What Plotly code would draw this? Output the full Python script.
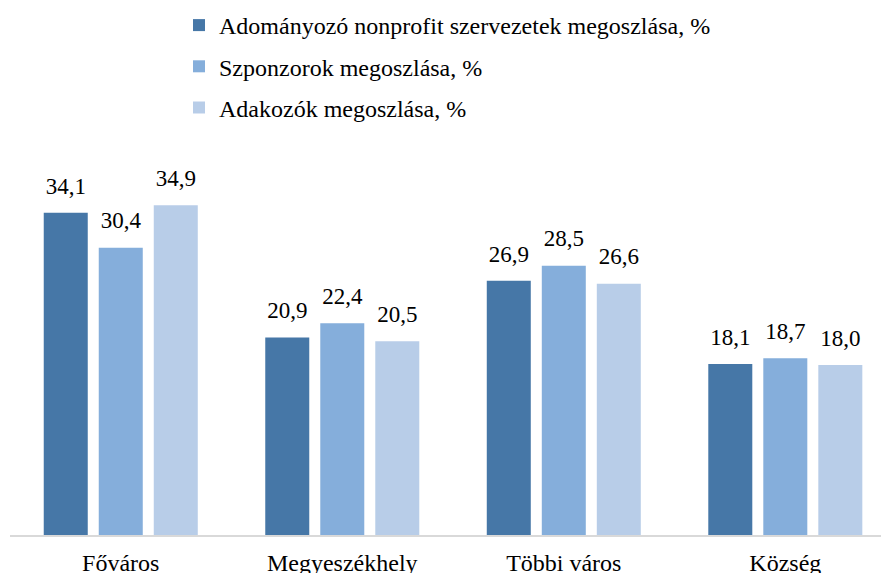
import plotly.graph_objects as go

categories = ["Főváros", "Megyeszékhely", "Többi város", "Község"]
series_names = [
    "Adományozó nonprofit szervezetek megoszlása, %",
    "Szponzorok megoszlása, %",
    "Adakozók megoszlása, %",
]
nonprofit = [34.1, 20.9, 26.9, 18.1]
szponzorok = [30.4, 22.4, 28.5, 18.7]
adakozok = [34.9, 20.5, 26.6, 18.0]
colors = ["#4677A7", "#85AEDB", "#B8CDE8"]

FONT = "Liberation Serif"
series = [nonprofit, szponzorok, adakozok]

fig = go.Figure()
for i, (name, vals) in enumerate(zip(series_names, series)):
    fig.add_trace(go.Bar(
        x=categories, y=vals, name=name,
        marker=dict(color=colors[i], line=dict(width=0)),
        legendgroup=f"g{i}", hoverinfo="skip",
    ))
for i, vals in enumerate(series):
    fig.add_trace(go.Scatter(
        x=categories, y=vals, mode="markers+text",
        text=[f"{v:.1f}".replace(".", ",") for v in vals],
        textposition="top center",
        textfont=dict(size=23, color="black", family=FONT),
        marker=dict(size=20, opacity=0),
        showlegend=False, hoverinfo="skip", cliponaxis=False,
    ))

fig.update_layout(
    width=881, height=573,
    margin=dict(l=10, r=0, t=157, b=38, autoexpand=False),
    paper_bgcolor="white", plot_bgcolor="white",
    barmode="group", bargap=0.255, bargroupgap=0.2,
    scattermode="group", scattergap=0.255,
    font=dict(family=FONT, size=24, color="black"),
    showlegend=True,
    legend=dict(
        x=(179 - 10) / 871, y=(535 - 3) / 378, xanchor="left", yanchor="top",
        font=dict(size=24, family=FONT, color="black"),
        tracegroupgap=7, bgcolor="rgba(0,0,0,0)",
    ),
    xaxis=dict(
        range=[-0.5, 3.432], showgrid=False, showline=True,
        linecolor="#D9D9D9", linewidth=1.5, ticks="", tickangle=0,
        tickfont=dict(size=24, family=FONT, color="black"),
        ticklabelstandoff=5,
        automargin=False, fixedrange=True,
    ),
    yaxis=dict(
        range=[0, 40], visible=False, showgrid=False, zeroline=False,
        automargin=False, fixedrange=True,
    ),
)

fig.write_html(
    "out.html",
    config={"displayModeBar": False},
    post_script="document.body.style.margin='0';document.body.style.overflow='hidden';",
)
